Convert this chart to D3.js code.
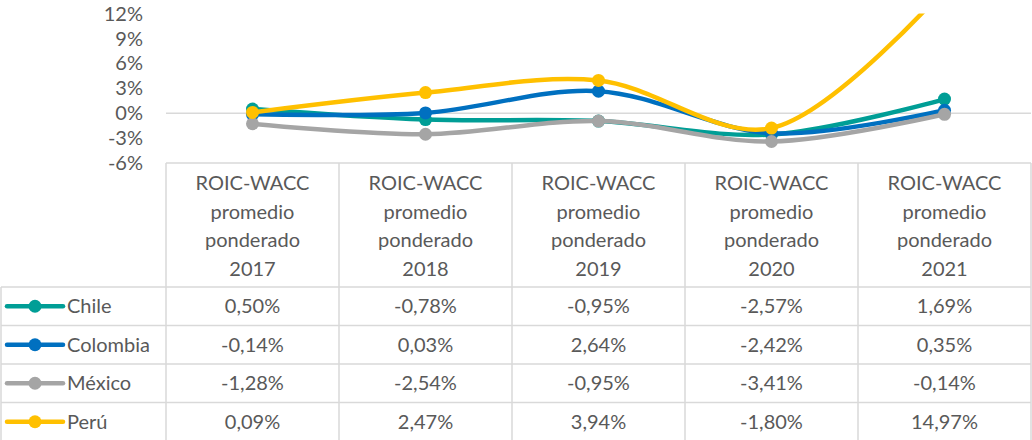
<!DOCTYPE html>
<html lang="es">
<head>
<meta charset="UTF-8">
<title>ROIC-WACC promedio ponderado</title>
<script src="https://d3js.org/d3.v7.min.js"></script>
<style>
  body { margin: 0; background: #fff; }
  text { font-family: Lato, "Noto Sans", sans-serif; fill: #595959; }
</style>
</head>
<body>
<script>
// Data
const years = ["2017", "2018", "2019", "2020", "2021"];
const headerLines = ["ROIC-WACC", "promedio", "ponderado"];
const countries = ["Chile", "Colombia", "México", "Perú"];
const chile = [0.50, -0.78, -0.95, -2.57, 1.69];
const colombia = [-0.14, 0.03, 2.64, -2.42, 0.35];
const mexico = [-1.28, -2.54, -0.95, -3.41, -0.14];
const peru = [0.09, 2.47, 3.94, -1.80, 14.97];
const yTicks = [-6, -3, 0, 3, 6, 9, 12];
const colors = ["#009E96", "#0070C0", "#A5A5A5", "#FFC000"];

const series = countries.map((name, i) => ({
  name,
  color: colors[i],
  values: [chile, colombia, mexico, peru][i]
}));

// Layout
const width = 1032, height = 440;
const plotLeft = 166, plotRight = 1031;
const plotTop = 13.4, plotBottom = 163;
const headerBottom = 287;
const rowH = 38.5;
const fs = "20px";

const svg = d3.select("body").append("svg")
  .attr("width", width)
  .attr("height", height);

const x = d3.scaleBand()
  .domain(years)
  .range([plotLeft, plotRight]);

const y = d3.scaleLinear()
  .domain([-6, 12])
  .range([plotBottom, plotTop]);

const loc = d3.formatLocale({ decimal: ",", thousands: ".", grouping: [3], currency: ["", ""], minus: "-" });
const fmt = loc.format(".2f");

// Y axis labels
svg.append("g")
  .selectAll("text")
  .data(yTicks)
  .join("text")
  .attr("x", 143)
  .attr("y", d => y(d))
  .attr("dy", "0.36em")
  .attr("text-anchor", "end")
  .style("font-size", fs)
  .text(d => d + "%");

// zero line (category axis)
svg.append("line")
  .attr("x1", plotLeft).attr("x2", plotRight)
  .attr("y1", y(0)).attr("y2", y(0))
  .attr("stroke", "#D9D9D9")
  .attr("stroke-width", 1.5);

// Table grid
const grid = svg.append("g")
  .attr("stroke", "#D9D9D9")
  .attr("stroke-width", 1.5);

grid.append("line")
  .attr("x1", plotLeft).attr("x2", plotRight)
  .attr("y1", plotBottom).attr("y2", plotBottom);
d3.range(years.length + 1).forEach(i => {
  const xx = plotLeft + i * x.bandwidth();
  grid.append("line")
    .attr("x1", xx).attr("x2", xx)
    .attr("y1", plotBottom).attr("y2", height);
});
d3.range(countries.length + 1).forEach(i => {
  const yy = headerBottom + i * rowH;
  grid.append("line")
    .attr("x1", 1).attr("x2", plotRight)
    .attr("y1", yy).attr("y2", yy);
});
grid.append("line")
  .attr("x1", 1).attr("x2", 1)
  .attr("y1", headerBottom).attr("y2", height);

// header texts
const header = svg.append("g")
  .selectAll("text")
  .data(years)
  .join("text")
  .attr("text-anchor", "middle")
  .style("font-size", fs);
header.each(function (yr) {
  const t = d3.select(this);
  headerLines.concat([yr]).forEach((line, j) => {
    t.append("tspan")
      .attr("x", x(yr) + x.bandwidth() / 2)
      .attr("y", 190 + j * 28.7)
      .text(line);
  });
});

// data rows with legend keys
series.forEach((s, i) => {
  const cy = headerBottom + i * rowH + rowH / 2;
  const row = svg.append("g");
  row.append("line")
    .attr("x1", 7).attr("x2", 63)
    .attr("y1", cy).attr("y2", cy)
    .attr("stroke", s.color)
    .attr("stroke-width", 4.5)
    .attr("stroke-linecap", "round");
  row.append("circle")
    .attr("cx", 35).attr("cy", cy).attr("r", 6.5)
    .attr("fill", s.color);
  row.append("text")
    .attr("x", 67).attr("y", cy)
    .attr("dy", "0.36em")
    .style("font-size", fs)
    .text(s.name);
  row.selectAll("text.val")
    .data(s.values)
    .join("text")
    .attr("class", "val")
    .attr("x", (d, j) => x(years[j]) + x.bandwidth() / 2)
    .attr("y", cy)
    .attr("dy", "0.36em")
    .attr("text-anchor", "middle")
    .style("font-size", fs)
    .text(d => fmt(d) + "%");
});

// lines, clipped to the plot area
svg.append("clipPath")
  .attr("id", "plotclip")
  .append("rect")
  .attr("x", plotLeft).attr("y", plotTop)
  .attr("width", plotRight - plotLeft)
  .attr("height", plotBottom - plotTop);

const line = d3.line()
  .x((d, j) => x(years[j]) + x.bandwidth() / 2)
  .y(d => y(d))
  .curve(d3.curveCatmullRom.alpha(0.5));

const plot = svg.append("g").attr("clip-path", "url(#plotclip)");
series.forEach(s => {
  plot.append("path")
    .datum(s.values)
    .attr("fill", "none")
    .attr("stroke", s.color)
    .attr("stroke-width", 4.5)
    .attr("stroke-linecap", "round")
    .attr("d", line);
  plot.selectAll(null)
    .data(s.values)
    .join("circle")
    .attr("cx", (d, j) => x(years[j]) + x.bandwidth() / 2)
    .attr("cy", d => y(d))
    .attr("r", 6.5)
    .attr("fill", s.color);
});
</script>
</body>
</html>
